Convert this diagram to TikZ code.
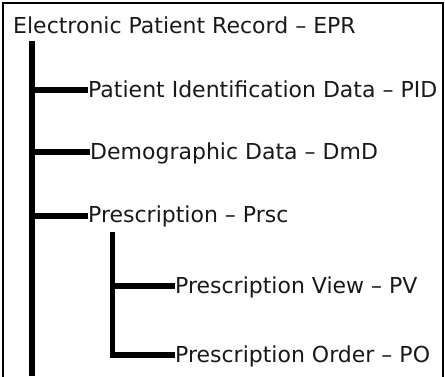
\documentclass[tikz,border=0pt]{standalone}
\usepackage{fontspec}
\setmainfont{DejaVu Sans}
\begin{document}
\begin{tikzpicture}[x=1pt,y=-1pt,
  lbl/.style={anchor=base west, inner sep=0pt, text=black!90, font=\fontsize{22}{24}\selectfont},
  conn/.style={line width=5.5pt, black},
  frame/.style={line width=2pt, black}]
\useasboundingbox (0,0) rectangle (445,376);
\begin{scope}
\clip (0,0) rectangle (445,376);
\draw[frame] (3,3) rectangle (443,420);
\end{scope}
\node[lbl] (epr) at (13,33) {Electronic Patient Record – EPR};
\node[lbl] (pid) at (88,97) {Patient Identification Data – PID};
\node[lbl] (dmd) at (90,159) {Demographic Data – DmD};
\node[lbl] (prsc) at (88,222) {Prescription – Prsc};
\node[lbl] (pv) at (175,293) {Prescription View – PV};
\node[lbl] (po) at (175,362) {Prescription Order – PO};
\coordinate (trunkTop) at (32,41);
\coordinate (trunkEnd) at (32,376);
\coordinate (subTop) at (112.5,232);
\coordinate (pidJ) at ([yshift=7pt]pid.base west);
\coordinate (dmdJ) at ([yshift=7pt]dmd.base west);
\coordinate (prscJ) at ([yshift=6pt]prsc.base west);
\coordinate (pvJ) at ([yshift=7pt]pv.base west);
\coordinate (poJ) at ([yshift=7pt]po.base west);
\draw[conn] (trunkTop) -- (trunkEnd);
\draw[conn] (trunkTop |- pidJ) -- (pidJ);
\draw[conn] (trunkTop |- dmdJ) -- (dmdJ);
\draw[conn] (trunkTop |- prscJ) -- (prscJ);
\draw[conn] (subTop) |- (poJ);
\draw[conn] (subTop |- pvJ) -- (pvJ);
\end{tikzpicture}
\end{document}
